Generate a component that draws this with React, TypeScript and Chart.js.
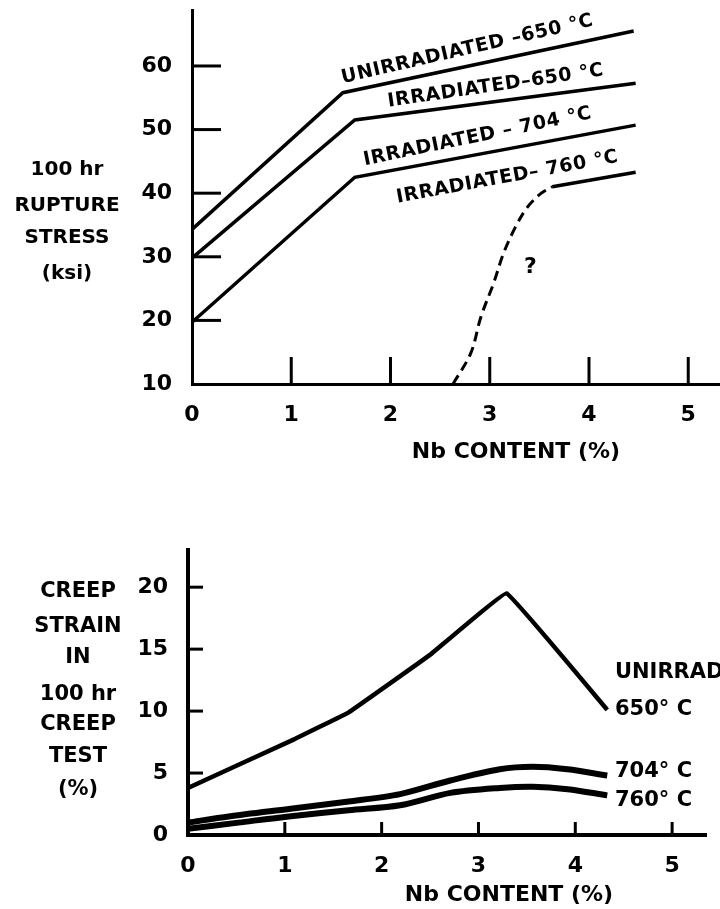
import React, { useEffect, useRef } from "react";
import { Chart, registerables } from "chart.js";
Chart.register(...registerables);

const FONT = "'DejaVu Sans', 'Liberation Sans', sans-serif";

// ---------- Top chart: 100 hr rupture stress vs Nb content ----------
const topXTicks = [0, 1, 2, 3, 4, 5];
const topYTicks = [10, 20, 30, 40, 50, 60];
const unirr650Nb = [0, 1.52, 4.45];
const unirr650Stress = [34.3, 55.8, 65.5];
const irr650Nb = [0, 1.64, 4.47];
const irr650Stress = [29.8, 51.5, 57.3];
const irr704Nb = [0, 1.64, 4.47];
const irr704Stress = [19.7, 42.5, 50.7];
const irr760DashNb = [2.63, 2.81, 2.91, 3.04, 3.14, 3.26, 3.38, 3.52, 3.63];
const irr760DashStress = [10, 14.9, 20.5, 25.9, 30.6, 34.7, 37.8, 40.0, 41.0];
const irr760SolidNb = [3.63, 4.47];
const irr760SolidStress = [41.0, 43.3];

const topLabels = [
  { text: "UNIRRADIATED –650 °C", x: 1.52, y: 57.3, angle: -13 },
  { text: "IRRADIATED–650 °C", x: 1.98, y: 53.6, angle: -8.3 },
  { text: "IRRADIATED – 704 °C", x: 1.74, y: 44.4, angle: -11.7 },
  { text: "IRRADIATED– 760 °C", x: 2.07, y: 38.5, angle: -10.5 },
];
const topQuestion = { text: "?", x: 3.41, y: 28.4 };
const topYTitle = ["100 hr", "RUPTURE", "STRESS", "(ksi)"];
const topXTitle = "Nb CONTENT (%)";

// ---------- Bottom chart: creep strain vs Nb content ----------
const botXTicks = [0, 1, 2, 3, 4, 5];
const botYTicks = [0, 5, 10, 15, 20];
const unirrStrainNb = [0, 1.09, 1.66, 2.51, 3.29, 4.33];
const unirrStrain = [3.8, 7.7, 9.9, 14.6, 19.5, 10.1];
const strain704Nb = [0, 0.42, 1.04, 1.66, 2.19, 2.71, 3.22, 3.56, 3.92, 4.33];
const strain704 = [1.0, 1.5, 2.1, 2.7, 3.3, 4.4, 5.3, 5.5, 5.3, 4.8];
const strain760Nb = [0, 0.52, 1.04, 1.66, 2.19, 2.71, 3.22, 3.56, 3.92, 4.33];
const strain760 = [0.5, 1.0, 1.5, 2.0, 2.4, 3.4, 3.8, 3.9, 3.7, 3.2];

const botLabels = [
  { text: "UNIRRADIATED", x: 4.41, y: 13.1 },
  { text: "650° C", x: 4.41, y: 10.1 },
  { text: "704° C", x: 4.41, y: 5.1 },
  { text: "760° C", x: 4.41, y: 2.8 },
];
const botYTitle = ["CREEP", "STRAIN", "IN", "100 hr", "CREEP", "TEST", "(%)"];
const botXTitle = "Nb CONTENT (%)";

const pts = (xs: number[], ys: number[]) => xs.map((x, i) => ({ x, y: ys[i] }));

type Overlay = {
  xTickMarks: number[];
  yTickMarks: number[];
  xTickLen: number;
  yTickLen: number;
  tickWidth: number;
  rotLabels: { text: string; x: number; y: number; angle: number }[];
  rotSize: number;
  flatLabels: { text: string; x: number; y: number }[];
  flatSize: number;
  question?: { text: string; x: number; y: number };
  yTitle: string[];
  yTitleX: number;
  yTitleYs: number[];
  yTitleSize: number;
  xTitle: string;
  xTitleX: number;
  xTitleY: number;
  xTitleSize: number;
};

const overlayPlugin = (o: Overlay) => ({
  id: "overlay",
  afterDraw(chart: any) {
    const ctx = chart.ctx;
    const xs = chart.scales.x;
    const ys = chart.scales.y;
    const area = chart.chartArea;
    ctx.save();
    ctx.strokeStyle = "#000";
    ctx.fillStyle = "#000";
    ctx.lineWidth = o.tickWidth;
    ctx.lineCap = "butt";
    o.xTickMarks.forEach((v) => {
      const px = xs.getPixelForValue(v);
      ctx.beginPath();
      ctx.moveTo(px, area.bottom);
      ctx.lineTo(px, area.bottom - o.xTickLen);
      ctx.stroke();
    });
    o.yTickMarks.forEach((v) => {
      const py = ys.getPixelForValue(v);
      ctx.beginPath();
      ctx.moveTo(area.left, py);
      ctx.lineTo(area.left + o.yTickLen, py);
      ctx.stroke();
    });
    // rotated line labels
    ctx.font = `bold ${o.rotSize}px ${FONT}`;
    ctx.textAlign = "left";
    ctx.textBaseline = "alphabetic";
    (ctx as any).letterSpacing = "0.6px";
    o.rotLabels.forEach((l) => {
      ctx.save();
      ctx.translate(xs.getPixelForValue(l.x), ys.getPixelForValue(l.y));
      ctx.rotate((l.angle * Math.PI) / 180);
      ctx.fillText(l.text, 0, 0);
      ctx.restore();
    });
    (ctx as any).letterSpacing = "0px";
    ctx.font = `bold ${o.flatSize}px ${FONT}`;
    ctx.textBaseline = "middle";
    o.flatLabels.forEach((l) => {
      ctx.fillText(l.text, xs.getPixelForValue(l.x), ys.getPixelForValue(l.y));
    });
    if (o.question) {
      ctx.font = `bold 22px ${FONT}`;
      ctx.textAlign = "center";
      ctx.fillText(o.question.text, xs.getPixelForValue(o.question.x), ys.getPixelForValue(o.question.y));
    }
    ctx.textAlign = "center";
    ctx.font = `bold ${o.yTitleSize}px ${FONT}`;
    o.yTitle.forEach((t, i) => ctx.fillText(t, o.yTitleX, o.yTitleYs[i]));
    ctx.font = `bold ${o.xTitleSize}px ${FONT}`;
    ctx.fillText(o.xTitle, o.xTitleX, o.xTitleY);
    ctx.restore();
  },
});

function axis(
  min: number,
  max: number,
  ticks: number[],
  fit: (s: any) => void,
  padding: number,
  size: number,
  borderWidth: number
) {
  return {
    type: "linear",
    min,
    max,
    afterBuildTicks: (s: any) => {
      s.ticks = ticks.map((v) => ({ value: v }));
    },
    afterFit: (s: any) => {
      fit(s);
      s.paddingTop = 0;
      s.paddingBottom = 0;
      s.paddingLeft = 0;
      s.paddingRight = 0;
    },
    grid: { display: false, drawTicks: false },
    border: { display: true, color: "#000", width: borderWidth },
    ticks: {
      color: "#000",
      padding,
      autoSkip: false,
      maxRotation: 0,
      font: { family: FONT, size, weight: "bold" },
    },
  };
}

function TopChart() {
  const ref = useRef<HTMLCanvasElement>(null);
  useEffect(() => {
    const line = (data: any, extra: any = {}) => ({
      data,
      borderColor: "#000",
      borderWidth: 3.5,
      pointRadius: 0,
      tension: 0,
      fill: false,
      ...extra,
    });
    const chart = new Chart(ref.current as HTMLCanvasElement, {
      type: "line",
      data: {
        datasets: [
          line(pts(unirr650Nb, unirr650Stress)),
          line(pts(irr650Nb, irr650Stress)),
          line(pts(irr704Nb, irr704Stress)),
          line(pts(irr760DashNb, irr760DashStress), { borderDash: [10, 6], borderWidth: 3, tension: 0.35 }),
          line(pts(irr760SolidNb, irr760SolidStress)),
        ],
      },
      options: {
        responsive: false,
        animation: false,
        layout: { padding: { top: 10, left: 0, right: 0, bottom: 0 } },
        plugins: { legend: { display: false }, tooltip: { enabled: false } },
        scales: {
          x: axis(0, 5.32, topXTicks, (s: any) => { s.height = 86; }, 18, 22, 3),
          y: axis(10, 68.8, topYTicks, (s: any) => { s.width = 192; }, 20, 22, 3),
        },
      } as any,
      plugins: [
        overlayPlugin({
          xTickMarks: [1, 2, 3, 4, 5],
          yTickMarks: [20, 30, 40, 50, 60],
          xTickLen: 27,
          yTickLen: 29,
          tickWidth: 3,
          rotLabels: topLabels,
          rotSize: 19,
          flatLabels: [],
          flatSize: 21,
          question: topQuestion,
          yTitle: topYTitle,
          yTitleX: 67,
          yTitleYs: [170, 206, 238, 274],
          yTitleSize: 20,
          xTitle: topXTitle,
          xTitleX: 516,
          xTitleY: 452,
          xTitleSize: 22,
        }),
      ],
    } as any);
    return () => chart.destroy();
  }, []);
  return <canvas ref={ref} width={720} height={470} style={{ display: "block" }} />;
}

function BottomChart() {
  const ref = useRef<HTMLCanvasElement>(null);
  useEffect(() => {
    const line = (data: any, w: number) => ({
      data,
      borderColor: "#000",
      borderWidth: w,
      pointRadius: 0,
      tension: 0.3,
      fill: false,
    });
    const chart = new Chart(ref.current as HTMLCanvasElement, {
      type: "line",
      data: {
        datasets: [
          { ...line(pts(unirrStrainNb, unirrStrain), 4.5), tension: 0.05 },
          line(pts(strain704Nb, strain704), 6),
          line(pts(strain760Nb, strain760), 6),
        ],
      },
      options: {
        responsive: false,
        animation: false,
        layout: { padding: { top: 80, left: 0, right: 14, bottom: 0 } },
        plugins: { legend: { display: false }, tooltip: { enabled: false } },
        scales: {
          x: axis(0, 5.35, botXTicks, (s: any) => { s.height = 74; }, 18, 22, 4),
          y: axis(0, 23, botYTicks, (s: any) => { s.width = 188; }, 20, 22, 4),
        },
      } as any,
      plugins: [
        overlayPlugin({
          xTickMarks: [1, 2, 3, 4, 5],
          yTickMarks: [5, 10, 15, 20],
          xTickLen: 13,
          yTickLen: 15,
          tickWidth: 3,
          rotLabels: [],
          rotSize: 19,
          flatLabels: botLabels,
          flatSize: 21,
          yTitle: botYTitle,
          yTitleX: 78,
          yTitleYs: [122, 157, 188, 225, 255, 287, 320],
          yTitleSize: 21,
          xTitle: botXTitle,
          xTitleX: 509,
          xTitleY: 425,
          xTitleSize: 22,
        }),
      ],
    } as any);
    return () => chart.destroy();
  }, []);
  return <canvas ref={ref} width={720} height={439} style={{ display: "block" }} />;
}

export default function App() {
  return (
    <div style={{ position: "absolute", left: 0, top: 0, width: 720, height: 909, background: "#fff" }}>
      <TopChart />
      <BottomChart />
    </div>
  );
}
